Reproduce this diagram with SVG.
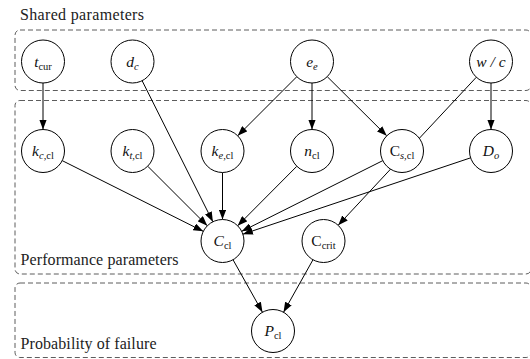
<svg xmlns="http://www.w3.org/2000/svg" width="530" height="359" viewBox="0 0 530 359">
<defs>
<marker id="arr" markerUnits="userSpaceOnUse" markerWidth="10" markerHeight="7.5" refX="10" refY="3.75" orient="auto" viewBox="0 0 10 7.5">
<path d="M0,0 L10,3.75 L0,7.5 z" fill="#000"/>
</marker>
<style>
.grp{fill:none;stroke:#333;stroke-width:0.8;stroke-dasharray:5 3}
.lbl{font-family:"Liberation Serif","Times New Roman",serif;font-size:16px;fill:#222}
.node circle{fill:#fff;stroke:#000;stroke-width:1}
.node text{font-family:"Liberation Serif","Times New Roman",serif;font-size:15.5px;fill:#111;text-anchor:middle}
.it{font-style:italic}
.sub{font-size:10.5px}
.edges line{stroke:#000;stroke-width:1;marker-end:url(#arr)}
</style>
</defs>
<g id="groups">
<rect class="grp" x="15" y="30" width="516" height="60.5" rx="5"/>
<rect class="grp" x="15" y="100.5" width="516" height="173.5" rx="5"/>
<rect class="grp" x="15" y="283" width="516" height="74.5" rx="5"/>
<text class="lbl" x="20" y="20" textLength="124" lengthAdjust="spacing">Shared parameters</text>
<text class="lbl" x="20.5" y="265" textLength="158" lengthAdjust="spacing">Performance parameters</text>
<text class="lbl" x="20.5" y="349" textLength="136" lengthAdjust="spacing">Probability of failure</text>
</g>
<g id="edges" class="edges">
<line x1="43" y1="83" x2="43" y2="129.5"/>
<line x1="296.8" y1="76.7" x2="237.7" y2="135.8"/>
<line x1="312" y1="83" x2="312" y2="129.5"/>
<line x1="327.25" y1="76.66" x2="386.75" y2="135.84"/>
<line x1="491" y1="83" x2="491" y2="129.5"/>
<line x1="476.33" y1="77.22" x2="338.17" y2="225.28"/>
<line x1="62.22" y1="160.64" x2="203.28" y2="231.36"/>
<line x1="147.7" y1="166.2" x2="207.3" y2="225.8"/>
<line x1="142.14" y1="80.72" x2="212.86" y2="221.78"/>
<line x1="222.5" y1="172.5" x2="222.5" y2="219.5"/>
<line x1="296.84" y1="166.25" x2="237.66" y2="225.75"/>
<line x1="382.78" y1="160.64" x2="241.72" y2="231.36"/>
<line x1="470.62" y1="157.83" x2="242.88" y2="234.17"/>
<line x1="233.02" y1="259.75" x2="262.48" y2="312.25"/>
<line x1="312.98" y1="259.75" x2="283.52" y2="312.25"/>
</g>
<g id="n-tcur" class="node"><circle cx="43" cy="61.5" r="21.5"/><text x="43" y="66.5"><tspan class="it">t</tspan><tspan class="sub" dy="3">cur</tspan></text></g>
<g id="n-dc" class="node"><circle cx="132.5" cy="61.5" r="21.5"/><text x="132.5" y="66.5"><tspan class="it">d</tspan><tspan class="sub it" dy="3">c</tspan></text></g>
<g id="n-ee" class="node"><circle cx="312" cy="61.5" r="21.5"/><text x="312" y="66.5"><tspan class="it">e</tspan><tspan class="sub it" dy="3">e</tspan></text></g>
<g id="n-wc" class="node"><circle cx="491" cy="61.5" r="21.5"/><text x="491" y="66.5" class="it">w / c</text></g>
<g id="n-kc" class="node"><circle cx="43" cy="151" r="21.5"/><text x="43" y="156"><tspan class="it">k</tspan><tspan class="sub it" dy="3">c,</tspan><tspan class="sub">cl</tspan></text></g>
<g id="n-kt" class="node"><circle cx="132.5" cy="151" r="21.5"/><text x="132.5" y="156"><tspan class="it">k</tspan><tspan class="sub it" dy="3">t,</tspan><tspan class="sub">cl</tspan></text></g>
<g id="n-ke" class="node"><circle cx="222.5" cy="151" r="21.5"/><text x="222.5" y="156"><tspan class="it">k</tspan><tspan class="sub it" dy="3">e,</tspan><tspan class="sub">cl</tspan></text></g>
<g id="n-ncl" class="node"><circle cx="312" cy="151" r="21.5"/><text x="312" y="156"><tspan class="it">n</tspan><tspan class="sub" dy="3">cl</tspan></text></g>
<g id="n-cscl" class="node"><circle cx="402" cy="151" r="21.5"/><text x="402" y="156"><tspan>C</tspan><tspan class="sub it" dy="3">s,</tspan><tspan class="sub">cl</tspan></text></g>
<g id="n-do" class="node"><circle cx="491" cy="151" r="21.5"/><text x="491" y="156"><tspan class="it">D</tspan><tspan class="sub it" dy="3">o</tspan></text></g>
<g id="n-ccl" class="node"><circle cx="222.5" cy="241" r="21.5"/><text x="222.5" y="246"><tspan class="it">C</tspan><tspan class="sub" dy="3">cl</tspan></text></g>
<g id="n-ccrit" class="node"><circle cx="323.5" cy="241" r="21.5"/><text x="323.5" y="246"><tspan>C</tspan><tspan class="sub" dy="3">crit</tspan></text></g>
<g id="n-pcl" class="node"><circle cx="273" cy="331" r="21.5"/><text x="273" y="336"><tspan class="it">P</tspan><tspan class="sub" dy="3">cl</tspan></text></g>
</svg>
